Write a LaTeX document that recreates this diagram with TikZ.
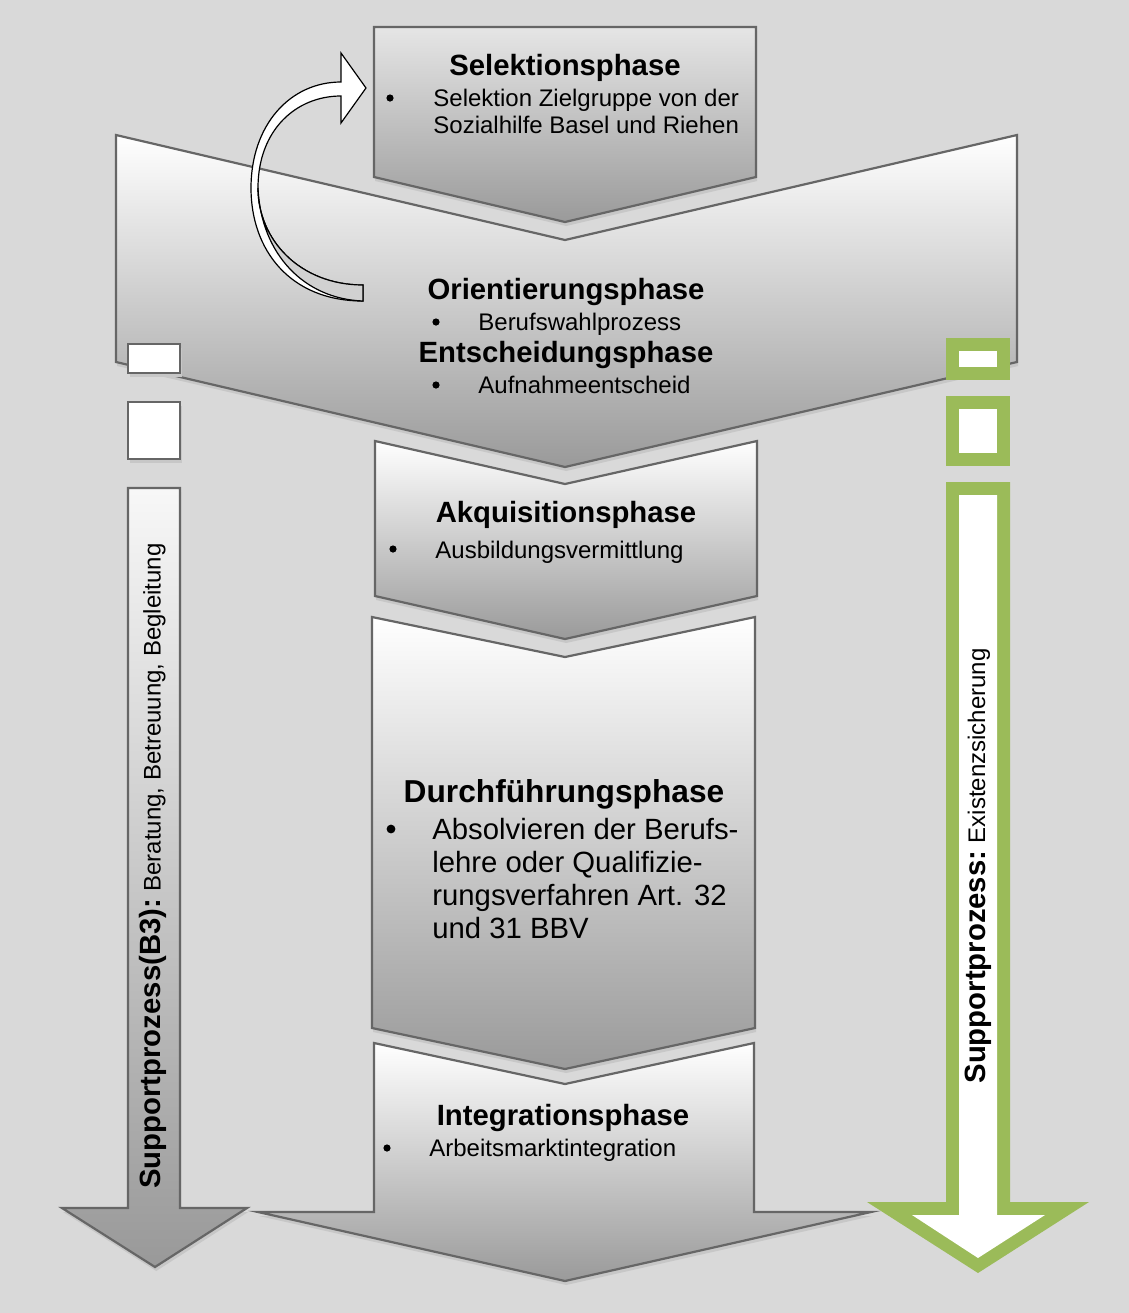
\documentclass[tikz,border=0pt]{standalone}
\usepackage{fontspec}
\setmainfont{Liberation Sans}
\usetikzlibrary{shadows}

\begin{document}
\begin{tikzpicture}[x=0.5pt,y=-0.5pt]

\definecolor{bgcolor}{HTML}{D9D9D9}
\definecolor{edgecolor}{HTML}{666666}
\definecolor{lowgray}{HTML}{9A9A9A}
\definecolor{suppgreen}{HTML}{9BBB59}

\tikzset{phase/.style={draw=edgecolor, line width=1.1pt, top color=white, bottom color=lowgray,
  drop shadow={shadow xshift=0.6pt, shadow yshift=-2pt, opacity=1, fill=black!22}}}
\tikzset{suppbox/.style={draw=edgecolor, line width=1.1pt, fill=white,
  drop shadow={shadow xshift=1.2pt, shadow yshift=-2pt, opacity=1, fill=black!22}}}
\tikzset{heading/.style={font=\fontsize{14.65}{17}\selectfont\bfseries, inner sep=0pt}}
\tikzset{bodytext/.style={font=\fontsize{12}{14}\selectfont, inner sep=0pt}}
\tikzset{bigtext/.style={font=\fontsize{14.65}{16.5}\selectfont, inner sep=0pt}}
\tikzset{bulletdot/.style={circle, fill=black, inner sep=0pt, minimum size=3.6pt}}

\useasboundingbox (0,0) rectangle (1129,1313);
\fill[bgcolor] (0,0) rectangle (1129,1313);

% phases in the middle
\draw[phase] (116,135) -- (565,240) -- (1017,135) -- (1017,362) -- (565,467) -- (116,362) -- cycle;
\draw[phase, top color=black!10] (374,27) -- (756,27) -- (756,177) -- (565,222) -- (374,177) -- cycle;
\draw[phase] (375,441) -- (565,484) -- (757,441) -- (757,596) -- (565,639) -- (375,596) -- cycle;
\draw[phase] (372,617) -- (565,657) -- (755,617) -- (755,1028) -- (565,1069) -- (372,1028) -- cycle;
\draw[phase] (374,1043) -- (565,1084) -- (754,1043) -- (754,1212) -- (871,1212) -- (565,1281)
  -- (258,1212) -- (374,1212) -- cycle;

% curved arrow back to the selection
\draw[line width=0.6pt, fill=white] (363,301) .. controls (290,301) and (251,250) .. (251,188)
  .. controls (251,125) and (290,82) .. (341,82) -- (341,53) -- (366,88) -- (341,123) -- (341,96)
  .. controls (296,96) and (258,130) .. (258,188) .. controls (258,240) and (300,285) .. (363,285) -- cycle;
\draw[line width=0.6pt, fill=black!18] (258,188) .. controls (258,240) and (300,285) .. (363,285)
  -- (363,301) .. controls (305,299) and (261,255) .. (258,188) -- cycle;

% left support process
\draw[suppbox] (128,344) rectangle (180,373);
\draw[suppbox] (128,402) rectangle (180,459);
\draw[phase, top color=white!97!black, bottom color=black!40] (128,488) -- (180,488) -- (180,1208) -- (247,1208)
  -- (155,1267) -- (62,1208) -- (128,1208) -- cycle;

% right support process
\fill[suppgreen] (946,338) rectangle (1010,380);
\fill[white] (959,351) rectangle (997,367);
\fill[suppgreen] (946,396) rectangle (1010,466);
\fill[white] (959,409) rectangle (997,453);
\fill[suppgreen] (946,482) -- (1010,482) -- (1010,1202) -- (1089,1202) -- (978,1273) -- (867,1202)
  -- (946,1202) -- cycle;
\fill[white] (959,495) -- (997,495) -- (997,1215) -- (1045,1215) -- (978,1258) -- (912,1215)
  -- (959,1215) -- cycle;

\node[heading, anchor=base] (selTitle) at (565,75) {Selektionsphase};
\node[bulletdot] (selDot) at (390,98) {};
\node[bodytext, anchor=base west] (selItemA) at (433,106) {Selektion Zielgruppe von der};
\node[bodytext, anchor=base west] (selItemB) at (433,133) {Sozialhilfe Basel und Riehen};

\node[heading, anchor=base] (oriTitle) at (566,299) {Orientierungsphase};
\node[bulletdot] (oriDot) at (436,322) {};
\node[bodytext, anchor=base west] (oriItem) at (478,330) {Berufswahlprozess};
\node[heading, anchor=base] (entTitle) at (566,362) {Entscheidungsphase};
\node[bulletdot] (entDot) at (436,385) {};
\node[bodytext, anchor=base west] (entItem) at (478,393) {Aufnahmeentscheid};

\node[heading, anchor=base] (akqTitle) at (566,522) {Akquisitionsphase};
\node[bulletdot] (akqDot) at (393,549) {};
\node[bodytext, anchor=base west] (akqItem) at (435,558) {Ausbildungsvermittlung};

\node[heading, font=\fontsize{15.85}{18}\selectfont\bfseries, anchor=base] (durTitle) at (564,802) {Durchführungsphase};
\node[bulletdot, minimum size=4.4pt] (durDot) at (391,829) {};
\node[bigtext, anchor=base west] (durItemA) at (432,839) {Absolvieren der Berufs-};
\node[bigtext, anchor=base west] (durItemB) at (432,872) {lehre oder Qualifizie-};
\node[bigtext, anchor=base west] (durItemC) at (432,905) {rungsverfahren Art. 32};
\node[bigtext, anchor=base west] (durItemD) at (432,938) {und 31 BBV};

\node[heading, anchor=base] (intTitle) at (563,1125) {Integrationsphase};
\node[bulletdot] (intDot) at (387,1148) {};
\node[bodytext, anchor=base west] (intItem) at (429,1156) {Arbeitsmarktintegration};

\node[rotate=90, inner sep=0pt] (leftSupp) at (153,866)
  {{\fontsize{14.65}{17}\selectfont\bfseries Supportprozess(B3):} {\fontsize{12}{14}\selectfont Beratung, Betreuung, Begleitung}};
\node[rotate=90, inner sep=0pt] (rightSupp) at (978,866)
  {{\fontsize{14.65}{17}\selectfont\bfseries Supportprozess:} {\fontsize{12}{14}\selectfont Existenzsicherung}};

\end{tikzpicture}
\end{document}
